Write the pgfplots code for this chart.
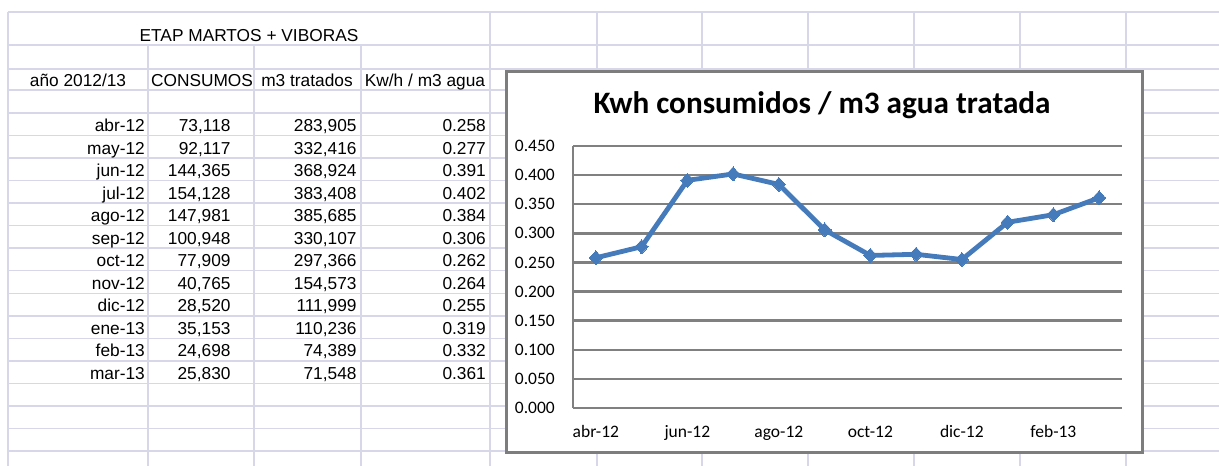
\documentclass[border=0pt]{standalone}
\usepackage{fontspec}
\setmainfont{Liberation Sans}
\newfontfamily\calibri{Carlito}
\usepackage{pgfplots}
\pgfplotsset{compat=1.18}
\definecolor{sheetgrid}{RGB}{214,216,234}
\definecolor{chartgrid}{RGB}{128,128,128}
\definecolor{series}{RGB}{70,123,187}
\definecolor{framegray}{RGB}{125,125,125}
\newcommand\datarow[5]{%
  \node[anchor=base east, inner sep=0pt] at (145,466-#1) {#2};
  \node[anchor=base east, inner sep=0pt] at (230.7,466-#1) {#3};
  \node[anchor=base east, inner sep=0pt] at (356.7,466-#1) {#4};
  \node[anchor=base east, inner sep=0pt] at (486,466-#1) {#5};
}
\begin{document}
\fontsize{17.3}{20}\selectfont
\begin{tikzpicture}[x=1pt,y=1pt]
\path[use as bounding box] (0,0) rectangle (1219,466);
% spreadsheet grid
\foreach \yy in {12,45,69,90,113,135.5,158.1,180.6,203.1,225.7,248.2,270.7,293.3,315.8,338.3,360.9,383.4,405.9,428.5,451}
  {\draw[sheetgrid, line width=1.5pt] (8,466-\yy) -- (1219,466-\yy);}
\draw[sheetgrid, line width=1.5pt] (8,454) -- (8,0);
\foreach \xx in {148,254,361}
  {\draw[sheetgrid, line width=1.5pt] (\xx,421) -- (\xx,0);}
\foreach \xx in {490,597,702,808,914,1020,1126}
  {\draw[sheetgrid, line width=1.5pt] (\xx,454) -- (\xx,0);}
% table text
\node[anchor=base, inner sep=0pt] at (249,466-41.5) {ETAP MARTOS + VIBORAS};
\node[anchor=base, inner sep=0pt] at (78,466-86.5) {año 2012/13};
\node[anchor=base, inner sep=0pt] at (202,466-86.5) {CONSUMOS};
\node[anchor=base, inner sep=0pt] at (307,466-86.5) {m3 tratados};
\node[anchor=base, inner sep=0pt] at (425,466-86.5) {Kw/h / m3 agua};
\datarow{131.5}{abr-12}{73,118}{283,905}{0.258}
\datarow{154.1}{may-12}{92,117}{332,416}{0.277}
\datarow{176.6}{jun-12}{144,365}{368,924}{0.391}
\datarow{199.1}{jul-12}{154,128}{383,408}{0.402}
\datarow{221.7}{ago-12}{147,981}{385,685}{0.384}
\datarow{244.2}{sep-12}{100,948}{330,107}{0.306}
\datarow{266.7}{oct-12}{77,909}{297,366}{0.262}
\datarow{289.3}{nov-12}{40,765}{154,573}{0.264}
\datarow{311.8}{dic-12}{28,520}{111,999}{0.255}
\datarow{334.3}{ene-13}{35,153}{110,236}{0.319}
\datarow{356.9}{feb-13}{24,698}{74,389}{0.332}
\datarow{379.4}{mar-13}{25,830}{71,548}{0.361}
% chart frame
\draw[framegray, line width=3pt, fill=white] (506,466-72) rectangle (1142,466-453);
\node[anchor=base, inner sep=0pt, font=\calibri\bfseries\fontsize{31.2}{36}\selectfont] at (822,466-113.5) {Kwh consumidos / m3 agua tratada};
\begin{axis}[
  at={(573pt,58pt)}, anchor=south west,
  scale only axis, width=549pt, height=262pt,
  xmin=-0.5, xmax=11.5, ymin=0, ymax=0.45,
  xtick={0,2,4,6,8,10},
  xticklabels={abr-12,jun-12,ago-12,oct-12,dic-12,feb-13},
  ytick={0,0.05,0.1,0.15,0.2,0.25,0.3,0.35,0.4,0.45},
  axis x line=bottom, axis y line=left,
  axis line style={-, chartgrid, line width=2.4pt},
  ymajorgrids, major grid style={chartgrid, line width=2.4pt},
  major tick length=0pt, tick style={draw=none},
  ticklabel style={font=\calibri\fontsize{17.5}{20}\selectfont, inner sep=0pt},
  yticklabel style={anchor=east, xshift=-18pt},
  xticklabel style={anchor=base, yshift=-29pt},
  /pgf/number format/fixed, /pgf/number format/fixed zerofill,
  /pgf/number format/precision=3, /pgf/number format/assume math mode=true,
  clip=false,
]
\addplot[series, line width=4.8pt, line join=round, mark=diamond*, mark size=7pt,
  mark options={fill=series, draw=series, line width=0pt, xscale=1.25}]
  coordinates {(0,0.258) (1,0.277) (2,0.391) (3,0.402) (4,0.384) (5,0.306)
               (6,0.262) (7,0.264) (8,0.255) (9,0.319) (10,0.332) (11,0.361)};
\end{axis}
\end{tikzpicture}
\end{document}
